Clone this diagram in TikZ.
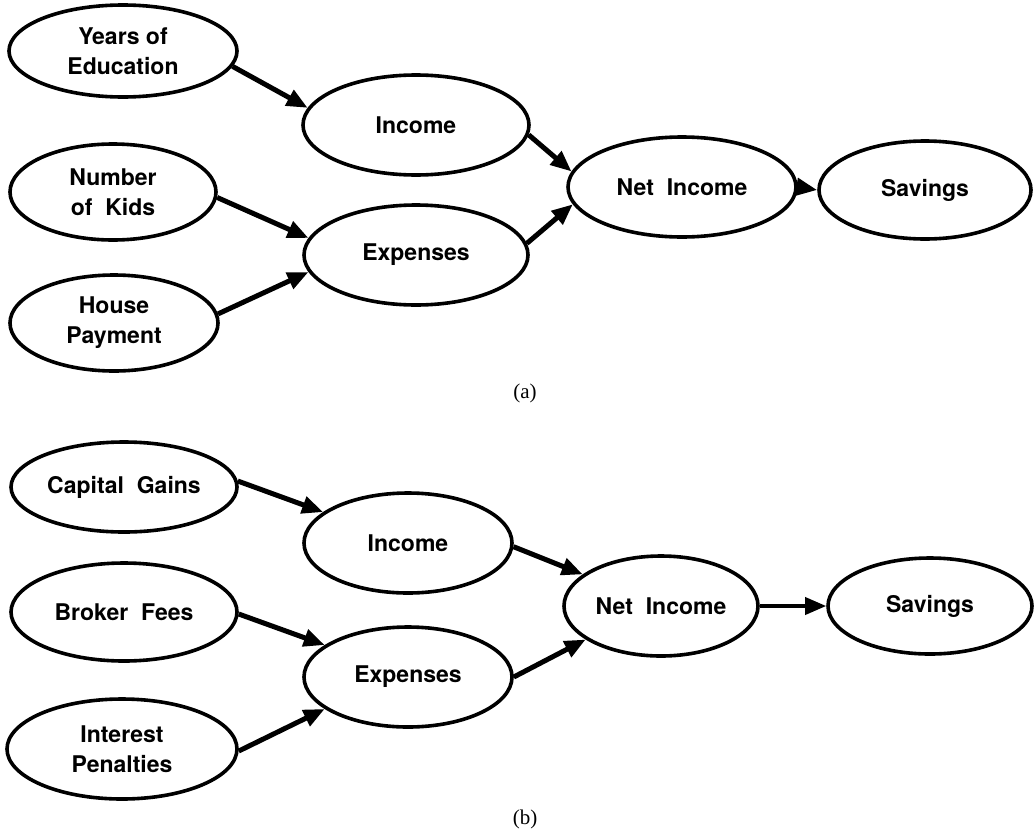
\documentclass[tikz,border=0pt]{standalone}
\usepackage{fontspec}
\setmainfont{TeX Gyre Heros}
\newfontfamily\capfont{Liberation Serif}
\usetikzlibrary{shapes.geometric,arrows.meta}
\tikzset{
  blob/.style={ellipse, draw, line width=3.6pt, inner sep=0pt, align=center,
    font=\fontsize{23}{30}\selectfont\bfseries},
  link/.style={line width=5pt, -{Triangle[length=21pt,width=17pt]}},
  caption/.style={font=\fontsize{21}{24}\capfont}
}
\newcommand{\varnode}[5]{% name, x, y, width, height
  \node[blob, minimum width=#4pt, minimum height=#5pt] (#1) at (#2,#3)}
\begin{document}
\begin{tikzpicture}[x=1pt,y=-1pt]
\useasboundingbox (0,0) rectangle (1035,835);

% ---- (a) household model ----
\varnode{yrs}{123}{51}{228}{92} {Years of\\Education};
\varnode{kids}{113}{192}{206}{96} {Number\\of\ \ Kids};
\varnode{house}{114}{323}{208}{96} {House\\Payment};
\varnode{inca}{416}{125}{226}{100} {Income};
\varnode{expa}{416}{255}{224}{100} {Expenses};
\varnode{neta}{682}{187}{228}{100} {Net\ \ Income};
\varnode{sava}{925}{190}{212}{98} {Savings};

\draw[link] (yrs.-8) -- (inca.171);
\draw[link] (kids.-3) -- (expa.171);
\draw[link] (house.5) -- (expa.189);
\draw[link] (inca.-5) -- (neta.172);
\draw[link] (expa.6) -- (neta.189);
\draw[link] (neta.east) -- (sava.west);

\node[caption] (capa) at (525,393) {(a)};

% ---- (b) investment model ----
\varnode{capg}{124}{487}{226}{90} {Capital\ \ Gains};
\varnode{brok}{124}{612}{226}{98} {Broker\ \ Fees};
\varnode{intp}{122}{749}{230}{100} {Interest\\Penalties};
\varnode{incb}{408}{543}{208}{100} {Income};
\varnode{expb}{408}{677}{208}{100} {Expenses};
\varnode{netb}{661}{606}{194}{100} {Net\ \ Income};
\varnode{savb}{930}{606}{204}{96} {Savings};

\draw[link] (capg.3) -- (incb.160);
\draw[link] (brok.-1) -- (expb.159);
\draw[link] (intp.-1) -- (expb.201);
\draw[link] (incb.-2) -- (netb.158);
\draw[link] (expb.0) -- (netb.204);
\draw[link, line width=3.6pt] (netb.east) -- (savb.west);

\node[caption] (capb) at (525,819) {(b)};
\end{tikzpicture}
\end{document}
